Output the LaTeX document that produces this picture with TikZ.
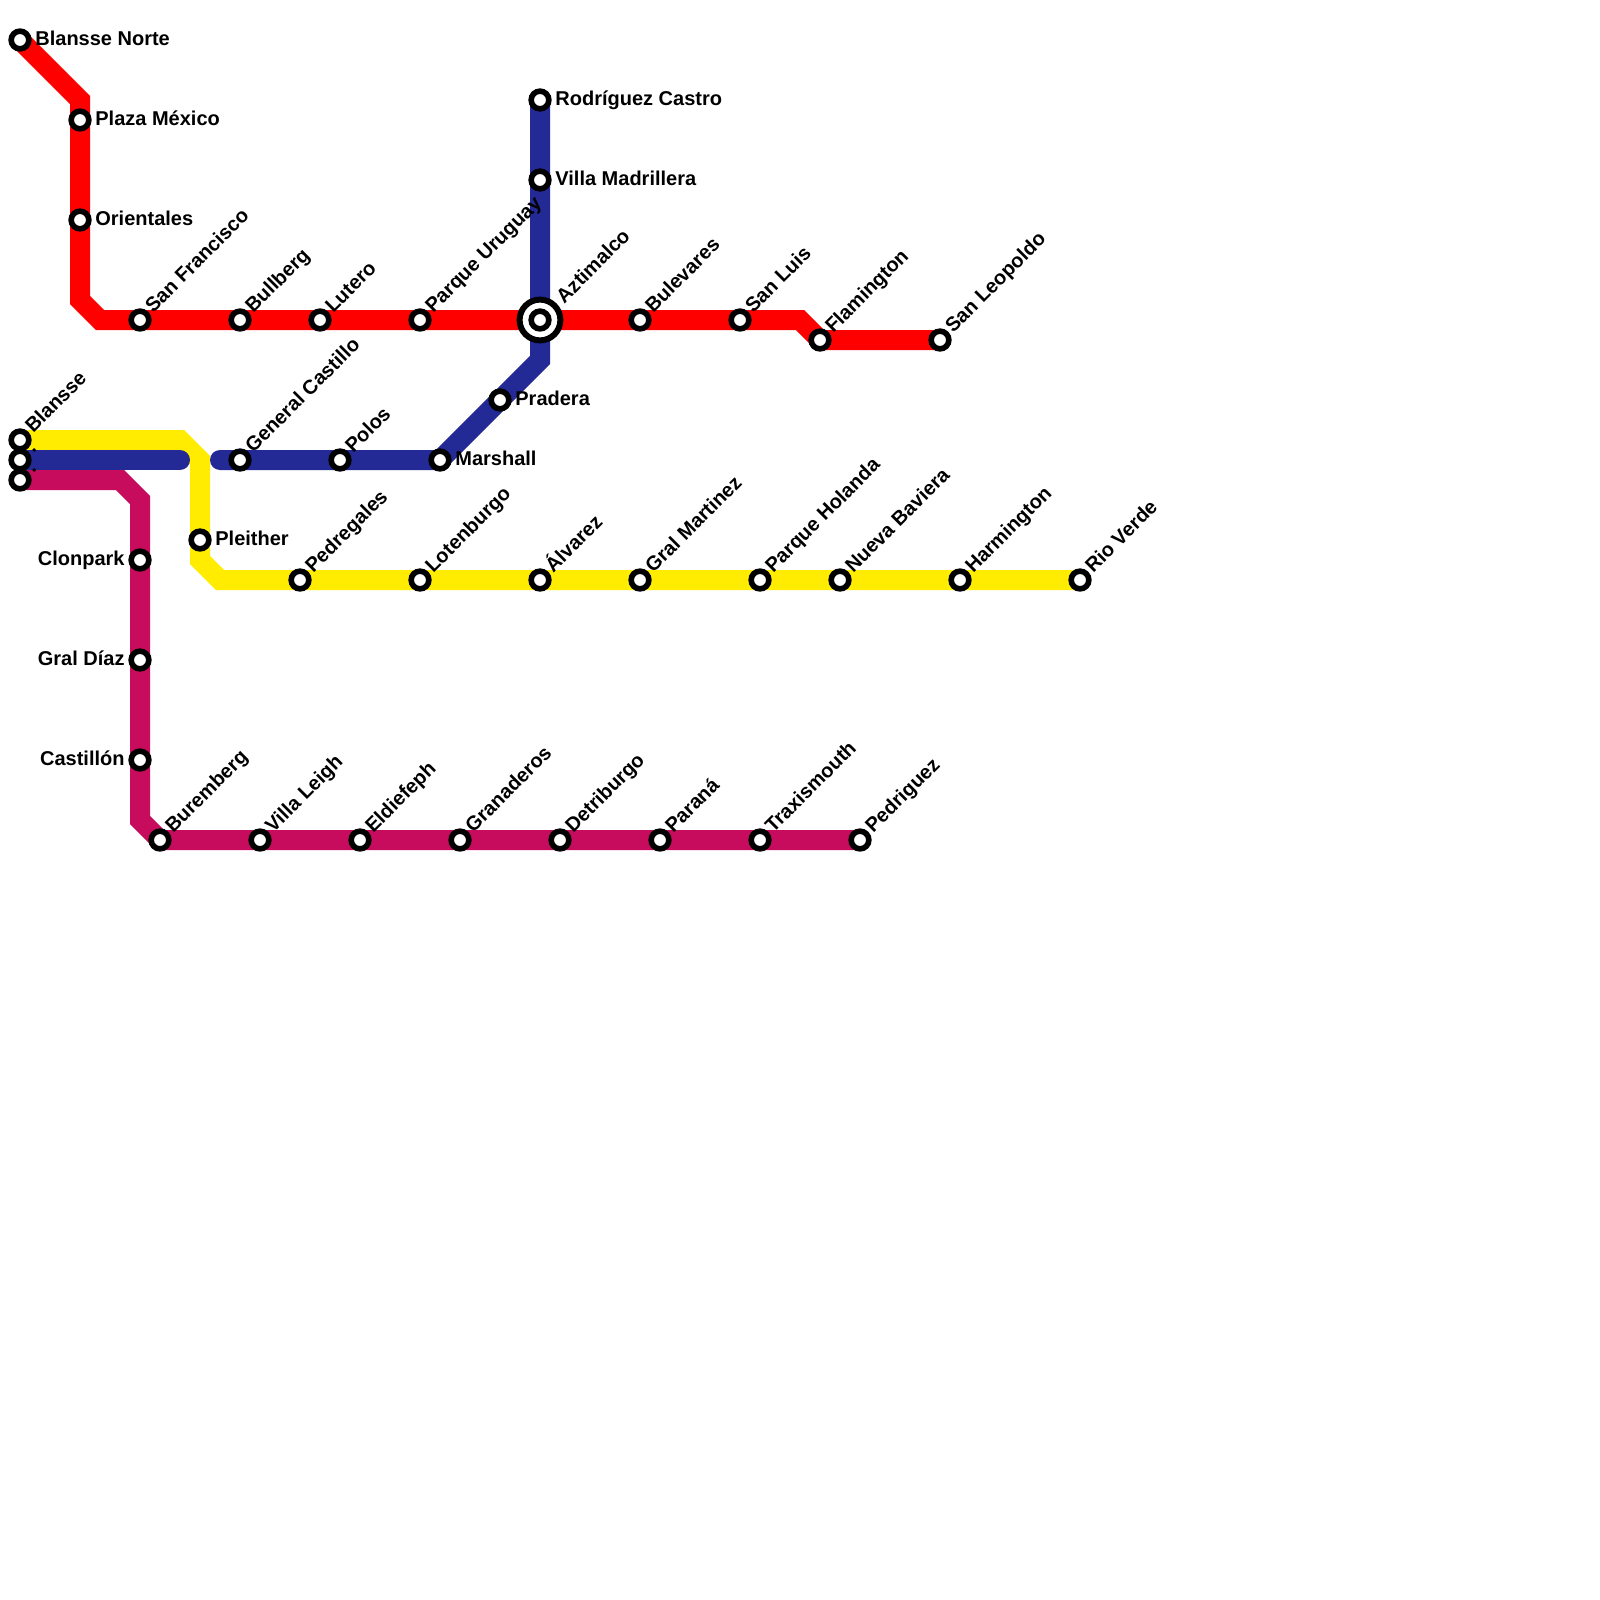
\documentclass[tikz,border=0pt]{standalone}
\usepackage{fontspec}
\setmainfont{Liberation Sans}
\usetikzlibrary{backgrounds}
\definecolor{lred}{HTML}{FF0000}
\definecolor{lyellow}{HTML}{FFEC00}
\definecolor{lblue}{HTML}{232A96}
\definecolor{lmag}{HTML}{C70C5D}
\tikzset{
  stn/.style={circle,draw=black,fill=white,line width=2.8pt,minimum size=8.85pt,inner sep=0pt,outer sep=0pt},
  hub/.style={circle,draw=black,fill=white,line width=3pt,minimum size=20.4pt,inner sep=0pt,outer sep=0pt},
  lbl/.style={font=\bfseries\fontsize{10}{11}\selectfont,text=black,inner sep=0pt},
  rl/.style={lbl,anchor=base west,xshift=7.5pt,yshift=-2.75pt},
  ll/.style={lbl,anchor=base east,xshift=-7.5pt,yshift=-2.75pt},
  dl/.style={lbl,anchor=base west,xshift=6.5pt,yshift=3pt,rotate=45},
  dlhub/.style={lbl,anchor=base west,xshift=12pt,yshift=7.75pt,rotate=45},
  tube/.style={line width=10pt,line join=miter},
}
\begin{document}
\begin{tikzpicture}[x=0.5pt,y=-0.5pt]
\useasboundingbox (0,0) rectangle (1600,1600);
% way points
\coordinate (r1) at (80,100);
\coordinate (r2) at (80,300);
\coordinate (r3) at (100,320);
\coordinate (r4) at (800,320);
\coordinate (y1) at (180,440);
\coordinate (y2) at (200,460);
\coordinate (y3) at (200,560);
\coordinate (y4) at (220,580);
\coordinate (b1) at (180,460);
\coordinate (b2) at (220,460);
\coordinate (b3) at (540,360);
\coordinate (m1) at (120,480);
\coordinate (m2) at (140,500);
\coordinate (m3) at (140,820);
% interchange ring
\node[hub] (hubring) at (540,320) {};
% red stations
\node[stn] (a1) at (20,40) {};
\node[stn] (a2) at (80,120) {};
\node[stn] (a3) at (80,220) {};
\node[stn] (a4) at (140,320) {};
\node[stn] (a5) at (240,320) {};
\node[stn] (a6) at (320,320) {};
\node[stn] (a7) at (420,320) {};
\node[stn] (hub) at (540,320) {};
\node[stn] (a9) at (640,320) {};
\node[stn] (a10) at (740,320) {};
\node[stn] (a11) at (820,340) {};
\node[stn] (a12) at (940,340) {};
% blue stations
\node[stn] (b01) at (540,100) {};
\node[stn] (b02) at (540,180) {};
\node[stn] (b03) at (500,400) {};
\node[stn] (b04) at (440,460) {};
\node[stn] (b05) at (340,460) {};
\node[stn] (b06) at (240,460) {};
\node[stn] (b07) at (20,460) {};
% yellow stations
\node[stn] (c1) at (20,440) {};
\node[stn] (c2) at (200,540) {};
\node[stn] (c3) at (300,580) {};
\node[stn] (c4) at (420,580) {};
\node[stn] (c5) at (540,580) {};
\node[stn] (c6) at (640,580) {};
\node[stn] (c7) at (760,580) {};
\node[stn] (c8) at (840,580) {};
\node[stn] (c9) at (960,580) {};
\node[stn] (c10) at (1080,580) {};
% magenta stations
\node[stn] (d1) at (20,480) {};
\node[stn] (d2) at (140,560) {};
\node[stn] (d3) at (140,660) {};
\node[stn] (d4) at (140,760) {};
\node[stn] (d5) at (160,840) {};
\node[stn] (d6) at (260,840) {};
\node[stn] (d7) at (360,840) {};
\node[stn] (d8) at (460,840) {};
\node[stn] (d9) at (560,840) {};
\node[stn] (d10) at (660,840) {};
\node[stn] (d11) at (760,840) {};
\node[stn] (d12) at (860,840) {};
% lines
\begin{scope}[on background layer]
\draw[tube,lred] (a1.center) -- (r1) -- (a2.center) -- (a3.center) -- (r2) -- (r3) -- (a4.center) -- (hub.center) -- (r4) -- (a11.center) -- (a12.center);
\draw[tube,lmag] (d1.center) -- (m1) -- (m2) -- (m3) -- (d5.center) -- (d12.center);
\draw[tube,lyellow] (c1.center) -- (y1) -- (y2) -- (y3) -- (y4) -- (c10.center);
\draw[tube,lblue,line cap=round] (b07.center) -- (b1);
\draw[tube,lblue,line cap=round] (b2) -- (b06.center) -- (b04.center) -- (b3) -- (b01.center);
\end{scope}
% labels
\node[rl] (t1) at (a1) {Blansse Norte};
\node[rl] (t2) at (a2) {Plaza México};
\node[rl] (t3) at (a3) {Orientales};
\node[dl] (t4) at (a4) {San Francisco};
\node[dl] (t5) at (a5) {Bullberg};
\node[dl] (t6) at (a6) {Lutero};
\node[dl] (t7) at (a7) {Parque Uruguay};
\node[dlhub] (t8) at (hub) {Aztimalco};
\node[dl] (t9) at (a9) {Bulevares};
\node[dl] (t10) at (a10) {San Luis};
\node[dl] (t11) at (a11) {Flamington};
\node[dl] (t12) at (a12) {San Leopoldo};
\node[rl] (u1) at (b01) {Rodríguez Castro};
\node[rl] (u2) at (b02) {Villa Madrillera};
\node[rl] (u3) at (b03) {Pradera};
\node[rl] (u4) at (b04) {Marshall};
\node[dl] (u5) at (b05) {Polos};
\node[dl] (u6) at (b06) {General Castillo};
\node[dl] (u7) at (b07) {.};
\node[dl] (v1) at (c1) {Blansse};
\node[rl] (v2) at (c2) {Pleither};
\node[dl] (v3) at (c3) {Pedregales};
\node[dl] (v4) at (c4) {Lotenburgo};
\node[dl] (v5) at (c5) {Álvarez};
\node[dl] (v6) at (c6) {Gral Martinez};
\node[dl] (v7) at (c7) {Parque Holanda};
\node[dl] (v8) at (c8) {Nueva Baviera};
\node[dl] (v9) at (c9) {Harmington};
\node[dl] (v10) at (c10) {Rio Verde};
\node[dl] (w1) at (d1) {.};
\node[ll] (w2) at (d2) {Clonpark};
\node[ll] (w3) at (d3) {Gral Díaz};
\node[ll] (w4) at (d4) {Castillón};
\node[dl] (w5) at (d5) {Buremberg};
\node[dl] (w6) at (d6) {Villa Leigh};
\node[dl] (w7) at (d7) {Eldiefeph};
\node[dl] (w8) at (d8) {Granaderos};
\node[dl] (w9) at (d9) {Detriburgo};
\node[dl] (w10) at (d10) {Paraná};
\node[dl] (w11) at (d11) {Traxismouth};
\node[dl] (w12) at (d12) {Pedriguez};
\end{tikzpicture}
\end{document}
